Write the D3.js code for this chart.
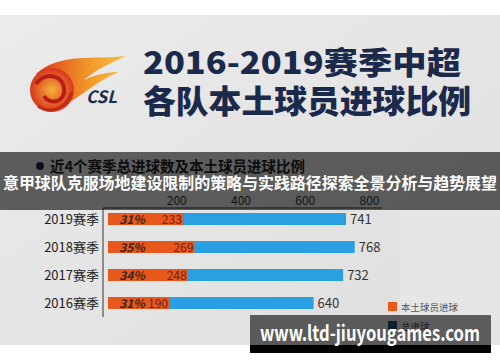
<!DOCTYPE html>
<html>
<head>
<meta charset="utf-8">
<script src="https://cdn.jsdelivr.net/npm/d3@7"></script>
<style>
  body { margin: 0; background: #fff; }
  svg text { font-family: "Noto Sans CJK SC", "Noto Sans", sans-serif; }
</style>
</head>
<body>
<div id="chart"></div>
<script>
let width = 500;
let height = 362;

// season rows, top to bottom
let seasons = ["2019赛季", "2018赛季", "2017赛季", "2016赛季"];
let totalGoals = [741, 768, 732, 640];
let localGoals = [233, 269, 248, 190];
let localShare = ["31%", "35%", "34%", "31%"];
let tickValues = [200, 400, 600, 800];
let legendLabels = ["本土球员进球", "总进球"];

let colors = {local: "#e9581b", total: "#2aa0e2", legendTotal: "#1c4f70"};

let svg = d3.select("#chart").append("svg")
    .attr("width", width)
    .attr("height", height);

let defs = svg.append("defs");
let bg = defs.append("linearGradient").attr("id", "bg").attr("x1", 0).attr("x2", 1).attr("y1", 0).attr("y2", 1);
bg.append("stop").attr("offset", "0%").attr("stop-color", "#ebebeb");
bg.append("stop").attr("offset", "55%").attr("stop-color", "#e4e4e4");
bg.append("stop").attr("offset", "100%").attr("stop-color", "#dedede");

let ball = defs.append("radialGradient").attr("id", "ball");
ball.append("stop").attr("offset", "0%").attr("stop-color", "#f6b23a");
ball.append("stop").attr("offset", "100%").attr("stop-color", "#d8361c");

let flame = defs.append("linearGradient").attr("id", "flame").attr("x1", 0).attr("x2", 1);
flame.append("stop").attr("offset", "0%").attr("stop-color", "#d93a1c");
flame.append("stop").attr("offset", "60%").attr("stop-color", "#f29a2a");
flame.append("stop").attr("offset", "100%").attr("stop-color", "#f5c040");

// grey panel
svg.append("rect").attr("x", 0).attr("y", 15).attr("width", width).attr("height", 330).attr("fill", "url(#bg)");
svg.append("rect").attr("x", 400).attr("y", 210).attr("width", 100).attr("height", 135).attr("fill", "#e9e9e9").attr("opacity", 0.6);

// CSL logo (rough)
let logo = svg.append("g");
logo.append("path")
    .attr("d", "M36,74 C60,52 95,60 126,56 C108,64 96,70 84,80 C96,74 110,72 118,72 C100,80 86,92 70,102 C64,86 52,78 36,74 Z")
    .attr("fill", "url(#flame)");
logo.append("circle").attr("cx", 52).attr("cy", 90).attr("r", 22).attr("fill", "url(#ball)");
logo.append("path").attr("d", "M36,84 C44,72 62,74 64,88 C66,102 50,106 44,96").attr("fill", "none").attr("stroke", "#b81e18").attr("stroke-width", 4);
logo.append("path").attr("d", "M38,106 C52,116 68,106 72,92").attr("fill", "none").attr("stroke", "#c22a18").attr("stroke-width", 3);
logo.append("text").attr("x", 86).attr("y", 103)
    .attr("font-size", 17).attr("font-style", "italic").attr("font-weight", 700)
    .attr("fill", "#1d2c4c").attr("font-family", "Liberation Sans, sans-serif")
    .text("CSL");

// title
svg.append("text").attr("x", 143).attr("y", 74)
    .attr("font-size", 31).attr("font-weight", 900).attr("fill", "#1b2a4b")
    .attr("textLength", 318).attr("lengthAdjust", "spacingAndGlyphs")
    .text("2016-2019赛季中超");
svg.append("text").attr("x", 143).attr("y", 113)
    .attr("font-size", 32).attr("font-weight", 900).attr("fill", "#1b2a4b")
    .attr("textLength", 328).attr("lengthAdjust", "spacingAndGlyphs")
    .text("各队本土球员进球比例");

// subtitle under the overlay
svg.append("circle").attr("cx", 40).attr("cy", 166).attr("r", 4).attr("fill", "#1b2a4b");
svg.append("text").attr("x", 50).attr("y", 172)
    .attr("font-size", 15).attr("font-weight", 700).attr("fill", "#222")
    .attr("textLength", 255).attr("lengthAdjust", "spacingAndGlyphs")
    .text("近4个赛季总进球数及本土球员进球比例");

// scales
let x = d3.scaleLinear().domain([0, 800]).range([108, 365]);
let y = d3.scalePoint().domain(seasons).range([219, 303]);
let barH = 12;

let rows = seasons.map(function(s, i) {
    return {season: s, total: totalGoals[i], local: localGoals[i], share: localShare[i]};
});

// top axis
let xAxis = d3.axisTop(x).tickValues(tickValues).tickSize(0).tickPadding(3);
let axisG = svg.append("g").attr("transform", "translate(0,208)").call(xAxis);
axisG.select(".domain").remove();
axisG.selectAll("text").attr("font-size", 12).attr("fill", "#333").attr("dx", 4)
    .attr("font-family", "Noto Sans, sans-serif");
svg.append("line").attr("x1", 103).attr("x2", 382).attr("y1", 208).attr("y2", 208)
    .attr("stroke", "#333").attr("stroke-width", 1);
svg.append("line").attr("x1", 103).attr("x2", 103).attr("y1", 208).attr("y2", 317)
    .attr("stroke", "#333").attr("stroke-width", 1);

// bars
let rowG = svg.selectAll(".row").data(rows).enter().append("g").attr("class", "row");

rowG.append("rect")
    .attr("x", x(0))
    .attr("y", function(d) { return y(d.season) - barH / 2; })
    .attr("width", function(d) { return x(d.total) - x(0); })
    .attr("height", barH)
    .attr("fill", colors.total);

rowG.append("rect")
    .attr("x", x(0))
    .attr("y", function(d) { return y(d.season) - barH / 2; })
    .attr("width", function(d) { return x(d.local) - x(0); })
    .attr("height", barH)
    .attr("fill", colors.local);

rowG.append("text")
    .attr("x", 99)
    .attr("y", function(d) { return y(d.season) + 5; })
    .attr("text-anchor", "end")
    .attr("font-size", 13).attr("fill", "#222")
    .text(function(d) { return d.season; });

rowG.append("text")
    .attr("x", function(d) { return x(d.total) + 4; })
    .attr("y", function(d) { return y(d.season) + 5; })
    .attr("font-size", 13).attr("fill", "#333")
    .attr("font-family", "DejaVu Serif, serif")
    .text(function(d) { return d.total; });

rowG.append("text")
    .attr("x", function(d) { return x(d.local) - 1; })
    .attr("y", function(d) { return y(d.season) + 4.5; })
    .attr("text-anchor", "end")
    .attr("font-size", 12).attr("fill", "#6b2210")
    .attr("font-family", "Noto Sans, sans-serif")
    .text(function(d) { return d.local; });

rowG.append("text")
    .attr("x", 132)
    .attr("y", function(d) { return y(d.season) + 4.5; })
    .attr("text-anchor", "middle")
    .attr("font-size", 12).attr("font-style", "italic").attr("font-weight", 700).attr("fill", "#3a2418")
    .attr("font-family", "Noto Sans, sans-serif")
    .text(function(d) { return d.share; });

// legend
let legend = svg.selectAll(".legend").data(legendLabels).enter().append("g")
    .attr("transform", function(d, i) { return "translate(388," + (302 + i * 19) + ")"; });
legend.append("rect").attr("width", 9).attr("height", 9)
    .attr("fill", function(d, i) { return i === 0 ? colors.local : colors.legendTotal; });
legend.append("text").attr("x", 13).attr("y", 8.5)
    .attr("font-size", 9.5).attr("fill", "#555")
    .text(function(d) { return d; });

// dark overlay band with headline
svg.append("rect").attr("x", 0).attr("y", 152).attr("width", width).attr("height", 58)
    .attr("fill", "#000").attr("opacity", 0.6);
svg.append("text").attr("x", 250).attr("y", 189)
    .attr("text-anchor", "middle")
    .attr("font-size", 16).attr("font-weight", 700).attr("fill", "#fff")
    .attr("textLength", 494).attr("lengthAdjust", "spacingAndGlyphs")
    .text("意甲球队克服场地建设限制的策略与实践路径探索全景分析与趋势展望");

// watermark box
svg.append("rect").attr("x", 250).attr("y", 315).attr("width", 241).attr("height", 30)
    .attr("fill", "#000").attr("opacity", 0.6);
svg.append("rect").attr("x", 250).attr("y", 345).attr("width", 241).attr("height", 8)
    .attr("fill", "#000");
svg.append("text").attr("x", 370).attr("y", 341)
    .attr("text-anchor", "middle")
    .attr("font-size", 21).attr("font-weight", 700).attr("fill", "#fff")
    .attr("font-family", "Open Sans, Noto Sans, sans-serif")
    .attr("textLength", 220).attr("lengthAdjust", "spacingAndGlyphs")
    .text("www.ltd-jiuyougames.com");
</script>
</body>
</html>
